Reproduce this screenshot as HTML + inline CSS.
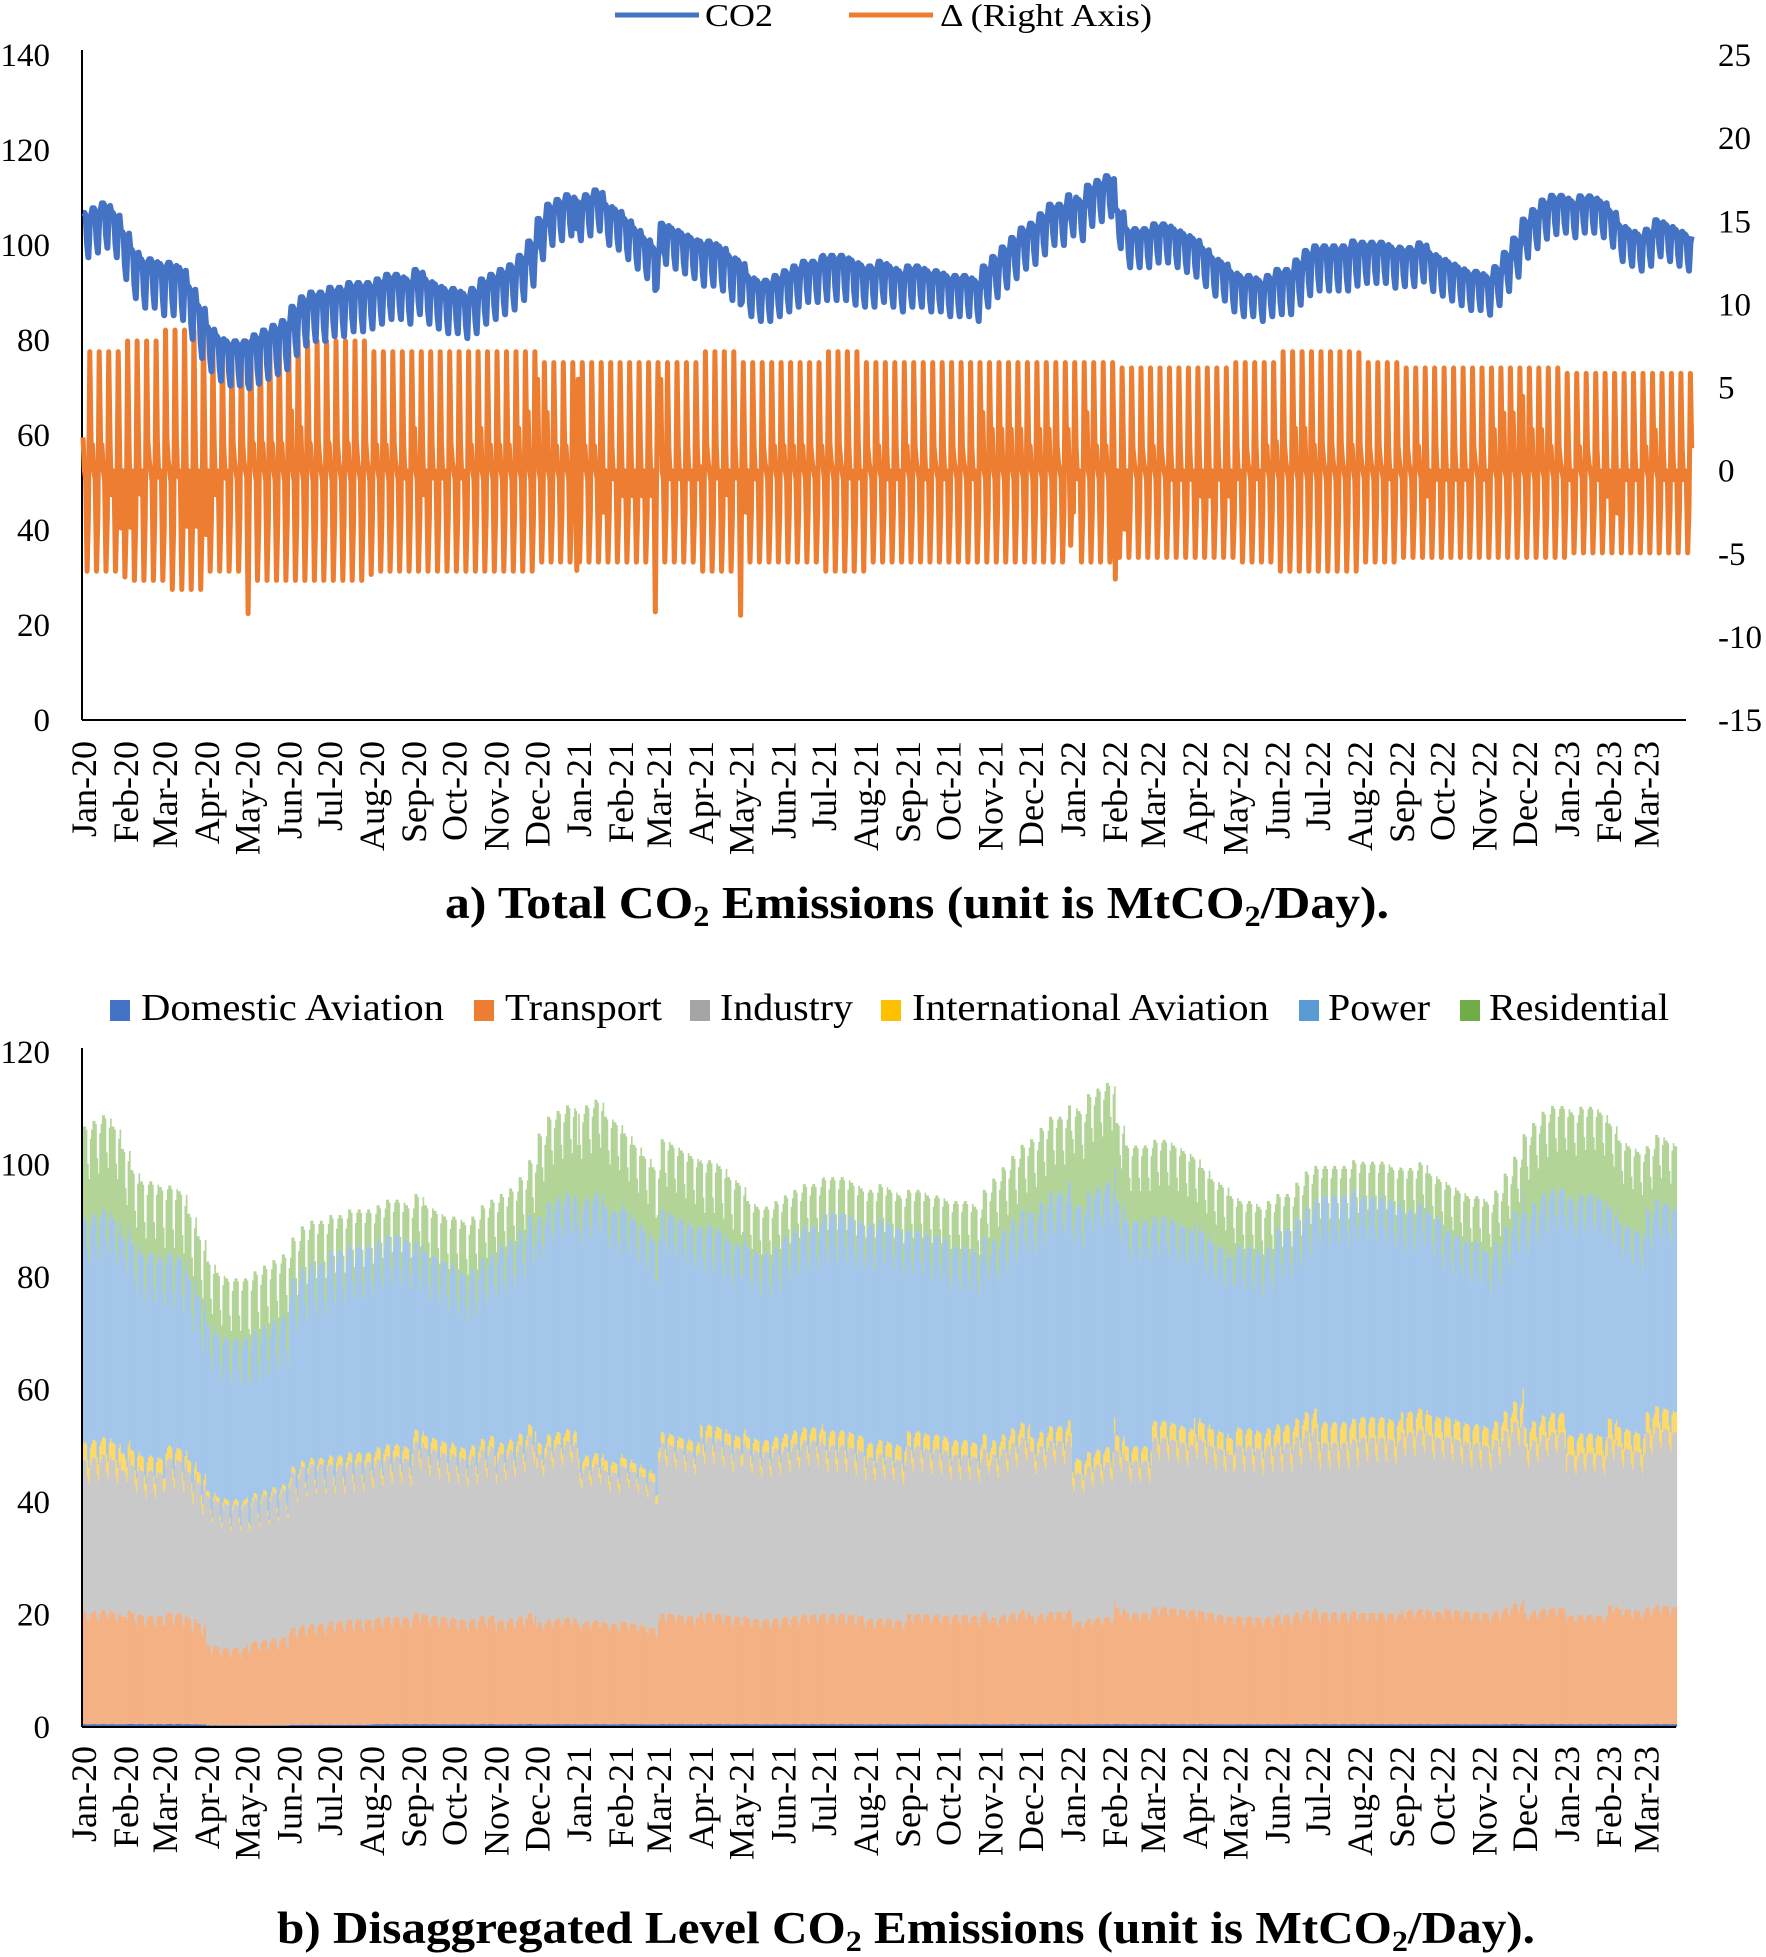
<!DOCTYPE html>
<html><head><meta charset="utf-8">
<style>
html,body{margin:0;padding:0;background:#fff;}
svg{display:block;font-family:"Liberation Serif",serif;}
</style></head>
<body>
<svg id="chart" width="1766" height="1957" viewBox="0 0 1766 1957" xmlns="http://www.w3.org/2000/svg">
<g id="topChart"></g>
<g id="bottomChart"></g>
</svg>
<script>
// ---- data ----
const monthLabels = ["Jan-20","Feb-20","Mar-20","Apr-20","May-20","Jun-20","Jul-20","Aug-20","Sep-20","Oct-20","Nov-20","Dec-20",
"Jan-21","Feb-21","Mar-21","Apr-21","May-21","Jun-21","Jul-21","Aug-21","Sep-21","Oct-21","Nov-21","Dec-21",
"Jan-22","Feb-22","Mar-22","Apr-22","May-22","Jun-22","Jul-22","Aug-22","Sep-22","Oct-22","Nov-22","Dec-22",
"Jan-23","Feb-23","Mar-23"];
const weeklyCO2 = [104,105,106,104,100, 96,94,94,93, 93,92,88,84, 80,78,77,77,77, 78,79,80,81, 84,86,87,87,
88,88,89,89,89, 90,91,91,90, 92,90,89,88, 88,87,88,90,91, 92,93,95,98, 103,106,107,108,107,
108,109,106,105, 103,101,99,97, 102,101,100,99,98, 98,97,95,94, 91,90,90,91, 92,93,94,94,95,
95,95,94,93, 93,94,93,92, 93,93,92,92,91, 91,91,90,93, 95,97,99,101, 102,104,106,106,108,
107,110,111,112, 105,101,101,101, 102,102,101,100,99, 97,95,94,92, 91,91,90,91, 92,92,94,96,97,
97,97,97,98, 98,98,98,97, 97,97,98,96,95, 94,93,92,92, 91,93,96,99, 103,105,107,108,108,
107,108,108,107, 105,102,101,100, 101,103,102,101,100];
// day-of-week offsets starting Wednesday (1 Jan 2020)
const weekdayOffset = [2.5,2.5,2,-3.5,-6,0.5,2];
// monthly strength of the weekly swing
const swingAmplitude = [1.1,1.2,1.3,1.1,1.2,1.2,1.2,1.1,1.1,1.1,1.1,1.0,1.0,1.0,1.0,1.1,1.0,1.0,1.1,1.0,1.0,1.0,1.0,1.0,1.0,0.95,0.95,0.95,1.0,1.1,1.1,1.0,0.95,0.95,0.95,0.95,0.9,0.9,0.9];
// one-day dips (day index, size)
const dipDays = [122,365,423,486,730];
const dipSizes = [-2,-6,-3,-3,-4];
const domesticAviation = [0.5,0.5,0.5,0.3,0.3,0.4,0.4,0.5,0.5,0.5,0.5,0.5,0.5,0.5,0.5,0.5,0.5,0.5,0.5,0.5,0.5,0.5,0.5,0.5,0.5,0.5,0.5,0.5,0.5,0.5,0.5,0.5,0.5,0.5,0.5,0.5,0.5,0.5,0.5];
const transport = [19.5,18.5,18.5,13,14.5,17,18,18.5,19,18.5,18.5,18.5,18,17.5,19,19,18.5,19,19,18.5,19.5,19.5,19.5,19.5,18.5,19.5,20,19.5,19,19.5,19.5,19.5,20,20,20,20,19,20,20.5];
const industry = [26.5,24.5,25.5,24,24.5,27,27,27.5,29,28.5,29.5,30.5,27,26.5,29,30,29.5,30,29,28.5,29.5,28.5,29.5,29.5,26.5,26.5,29,29.5,30,30.5,29.5,30.5,31,30,30,30,28,28,30.5];
const intlAviation = [3,2.5,2,0.8,0.8,1,1.5,2,2,1.8,1.8,2,1.8,1.5,1.8,2,2,2.2,2.5,2.5,2.5,2.5,2.5,2.5,2.5,2.5,2.8,3,3,3.2,3.5,3.5,3.5,3.3,3.3,3.3,3.3,3.3,3.5];
const power = [39,34.5,32,27,28,33,35.5,36,32,31,35,41,45,42.5,38,34,33,35,37.5,38.5,35.5,34.5,36.5,40.5,45.5,39.5,35,33,32,35,39.5,38.5,35.5,32.5,31.5,38.5,41.5,35.5,35.5];
const residential = [16,12,11,10,10,7,6,6,8,9,9,15,16,13,12,11,8,7,6,6,7,8,11,13,17,13,13,11,8,6,5,6,7,8,9,14,15,14,11];
const leftTicks = [0,20,40,60,80,100,120,140];
const rightTicks = [-15,-10,-5,0,5,10,15,20,25];
const bottomTicks = [0,20,40,60,80,100,120];

// ---- helpers ----
const NS = "http://www.w3.org/2000/svg";
function mk(tag, attrs, parent){const e=document.createElementNS(NS,tag);for(const k in attrs)e.setAttribute(k,attrs[k]);parent.appendChild(e);return e;}
const gTop = document.getElementById('topChart'), gBot = document.getElementById('bottomChart');
const start = Date.UTC(2020,0,1), DAY = 86400000;
const nDays = weeklyCO2.length*7;
function monthIndex(d){const dt=new Date(start+d*DAY);return Math.min(38,(dt.getUTCFullYear()-2020)*12+dt.getUTCMonth());}
const total = [];
for(let d=0; d<nDays; d++){ total.push(weeklyCO2[Math.floor(d/7)] + weekdayOffset[d%7]*swingAmplitude[monthIndex(d)]); }
dipDays.forEach((d,i)=>{ if(d<nDays) total[d]+=dipSizes[i]; });
const delta = total.map((v,i)=> i===0 ? 2 : v - total[i-1]);

// ---- top chart ----
const X0=83, SX=1.353, AXL=82, AXR=1686;
const xT = d => X0 + d*SX;
const yL = v => 720 - v*(665/140);
const yR = v => 720 - (v+15)*(665/40);
let el;
leftTicks.forEach(t=>{
  el=mk('text',{x:50,y:yL(t)+11,'text-anchor':'end','font-size':33},gTop); el.textContent=t;
   
});
rightTicks.forEach(t=>{
  el=mk('text',{x:1718,y:yR(t)+11,'font-size':33},gTop); el.textContent=t;
   
});
el=mk('line',{x1:AXL,y1:50,x2:AXL,y2:720,stroke:'#000','stroke-width':2},gTop);
 
el=mk('line',{x1:AXL,y1:720,x2:AXR,y2:720,stroke:'#000','stroke-width':2},gTop);
 
let p = delta.map((v,i)=>(i?'L':'M')+xT(i).toFixed(1)+','+yR(v).toFixed(1)).join('');
el=mk('path',{d:p,fill:'none',stroke:'#ED7D31','stroke-width':5,'stroke-linejoin':'round'},gTop);
 
p = total.map((v,i)=>(i?'L':'M')+xT(i).toFixed(1)+','+yL(v).toFixed(1)).join('');
el=mk('path',{d:p,fill:'none',stroke:'#4472C4','stroke-width':6,'stroke-linejoin':'round'},gTop);
 
function monthLabelsAt(g, yTop){
  monthLabels.forEach((m,i)=>{
    const d=(Date.UTC(2020+Math.floor(i/12),i%12,1)-start)/DAY;
    const x=xT(d)+13;
    const t=mk('text',{x:x,y:yTop,'font-size':36,'text-anchor':'end',transform:`rotate(-90 ${x} ${yTop})`},g);
    t.textContent=m;
     
  });
}
monthLabelsAt(gTop, 741);
el=mk('line',{x1:615,y1:15,x2:699,y2:15,stroke:'#4472C4','stroke-width':5},gTop);
 
el=mk('text',{x:705,y:26,'font-size':32,textLength:68,lengthAdjust:'spacingAndGlyphs'},gTop); el.textContent='CO2';
 
el=mk('line',{x1:849,y1:15,x2:933,y2:15,stroke:'#ED7D31','stroke-width':5},gTop);
 
el=mk('text',{x:940,y:26,'font-size':32,textLength:212,lengthAdjust:'spacingAndGlyphs'},gTop); el.textContent='Δ (Right Axis)';
 
el=mk('text',{x:445,y:918,'font-size':46,'font-weight':'bold',textLength:944,lengthAdjust:'spacingAndGlyphs'},gTop);
el.innerHTML='a)   Total CO<tspan font-size="30" dy="8">2</tspan><tspan dy="-8"> Emissions (unit is MtCO</tspan><tspan font-size="30" dy="8">2</tspan><tspan dy="-8">/Day).</tspan>';
 

// ---- bottom chart ----
const BAXR=1676;
const yB = v => 1727 - v*(675/120);
bottomTicks.forEach(t=>{
  el=mk('text',{x:50,y:yB(t)+11,'text-anchor':'end','font-size':33},gBot); el.textContent=t;
   
});
const cols = ['#4472C4','#F4B183','#C9C9C9','#FFD966','#A3C6EA','#B2D497'];
const names=['bar-domestic-aviation','bar-transport','bar-industry','bar-international-aviation','bar-power','bar-residential'];
for(let d=0; d<nDays; d++){
  const x=xT(d); if(x>=BAXR) break;
  const mi=monthIndex(d);
  const segs=[domesticAviation[mi],transport[mi],industry[mi],intlAviation[mi],power[mi],residential[mi]];
  const s=segs.reduce((a,b)=>a+b,0);
  const k0=total[d]/s;
  let base=0;
  segs.forEach((v0,k)=>{
    const v=v0*k0;
    const r=mk('rect',{x:x.toFixed(2),y:yB(base+v).toFixed(2),width:(SX+0.3).toFixed(2),height:(v*675/120).toFixed(2),fill:cols[k]},gBot);
    
    
    base+=v;
  });
}
el=mk('line',{x1:AXL,y1:1048,x2:AXL,y2:1727,stroke:'#000','stroke-width':2},gBot);
 
el=mk('line',{x1:AXL,y1:1727,x2:BAXR,y2:1727,stroke:'#000','stroke-width':2},gBot);
 
monthLabelsAt(gBot, 1746);
const legNames=['Domestic Aviation','Transport','Industry','International Aviation','Power','Residential'];
const legCols=['#4472C4','#ED7D31','#A5A5A5','#FFC000','#5B9BD5','#70AD47'];
const legSq=[110,474,690,881,1299,1460];
const legTx=[141,505,720,912,1328,1489];
const legW=[303,157,133,357,102,180];
legNames.forEach((n,i)=>{
  const r=mk('rect',{x:legSq[i],y:1000,width:20,height:21,fill:legCols[i]},gBot);
   
  const t=mk('text',{x:legTx[i],y:1020,'font-size':38,textLength:legW[i],lengthAdjust:'spacingAndGlyphs'},gBot);
  t.textContent=n;
   
});
el=mk('text',{x:277,y:1943,'font-size':46,'font-weight':'bold',textLength:1258,lengthAdjust:'spacingAndGlyphs'},gBot);
el.innerHTML='b)   Disaggregated Level CO<tspan font-size="30" dy="8">2</tspan><tspan dy="-8"> Emissions (unit is MtCO</tspan><tspan font-size="30" dy="8">2</tspan><tspan dy="-8">/Day).</tspan>';
 
</script>
</body></html>
